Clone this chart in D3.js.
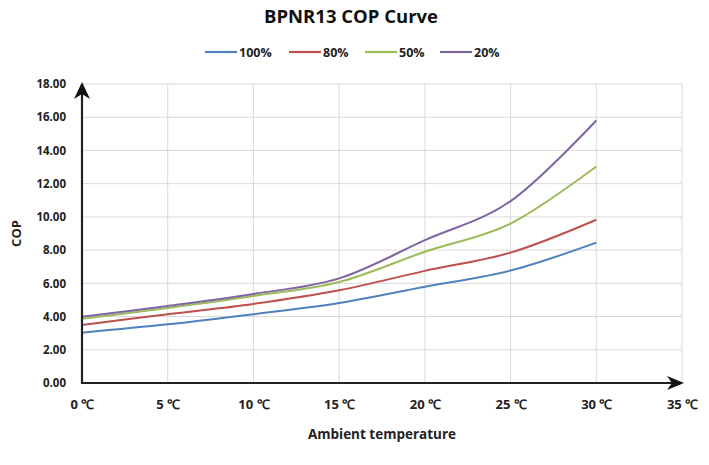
<!DOCTYPE html>
<html><head><meta charset="utf-8">
<script src="https://cdn.jsdelivr.net/npm/d3@7"></script>
<style>
html,body{margin:0;padding:0;background:#fff;}
svg{display:block;font-family:"Open Sans","DejaVu Sans",sans-serif;}
</style></head>
<body><svg id="c" width="709" height="465"></svg>
<script>
const temps = [0, 5, 10, 15, 20, 25, 30];
const xTicks = [0, 5, 10, 15, 20, 25, 30, 35];
const yTicks = [0, 2, 4, 6, 8, 10, 12, 14, 16, 18];
const seriesNames = ["100%", "80%", "50%", "20%"];
const cop100 = [3.03, 3.53, 4.14, 4.82, 5.80, 6.77, 8.45];
const cop80  = [3.49, 4.14, 4.76, 5.58, 6.75, 7.85, 9.83];
const cop50  = [3.86, 4.52, 5.24, 6.08, 7.90, 9.60, 13.03];
const cop20  = [3.99, 4.64, 5.36, 6.30, 8.60, 10.95, 15.80];
const colors = ["#4f81bd", "#c0504d", "#9bbb59", "#8064a2"];
const seriesValues = [cop100, cop80, cop50, cop20];

const svg = d3.select("#c");
const x = d3.scaleLinear().domain([0, 35]).range([82, 682]);
const y = d3.scaleLinear().domain([0, 18]).range([383, 84]);

// title
svg.append("text").attr("x", 351).attr("y", 23).attr("text-anchor", "middle")
  .attr("font-weight", "bold").attr("font-size", 18.5).attr("fill", "#111")
  .text("BPNR13 COP Curve");

// legend
const legX = [205, 289, 365, 440];
seriesNames.forEach((n, i) => {
  const g = svg.append("g");
  g.append("line").attr("x1", legX[i]).attr("x2", legX[i] + 32).attr("y1", 52).attr("y2", 52)
    .attr("stroke", colors[i]).attr("stroke-width", 2.2);
  g.append("text").attr("x", legX[i] + 34).attr("y", 56.5).attr("font-size", 12.5)
    .attr("font-weight", "bold").attr("fill", "#222").text(n);
});

// gridlines
svg.append("g").selectAll("line").data(yTicks.filter(d => d > 0)).join("line")
  .attr("x1", x(0)).attr("x2", x(35)).attr("y1", d => y(d)).attr("y2", d => y(d))
  .attr("stroke", "#d9d9d9").attr("stroke-width", 1);
svg.append("g").selectAll("line").data(xTicks.filter(d => d > 0)).join("line")
  .attr("y1", y(0)).attr("y2", y(18)).attr("x1", d => x(d)).attr("x2", d => x(d))
  .attr("stroke", "#d9d9d9").attr("stroke-width", 1);

// axes labels via d3 axes
const ax = svg.append("g").attr("transform", `translate(0,${y(0)})`)
  .call(d3.axisBottom(x).tickValues(xTicks).tickSize(0).tickPadding(17).tickFormat(d => d + " \u2103"));
ax.select(".domain").remove();
ax.selectAll("text").attr("font-size", 13).attr("font-weight", "bold").attr("fill", "#222")
  .attr("font-family", "'Open Sans', sans-serif");
const ay = svg.append("g").attr("transform", `translate(${x(0)},0)`)
  .call(d3.axisLeft(y).tickValues(yTicks).tickSize(0).tickPadding(16).tickFormat(d3.format(".2f")));
ay.select(".domain").remove();
ay.selectAll("text").attr("font-size", 11.5).attr("font-weight", "bold").attr("fill", "#222")
  .attr("font-family", "'Open Sans', sans-serif");

// axis titles
svg.append("text").attr("x", 382).attr("y", 439).attr("text-anchor", "middle")
  .attr("font-size", 13.5).attr("font-weight", "bold").attr("fill", "#222").text("Ambient temperature");
svg.append("text").attr("transform", `translate(21,${(y(0) + y(18)) / 2}) rotate(-90)`)
  .attr("text-anchor", "middle").attr("font-size", 13).attr("font-weight", "bold").attr("fill", "#222").text("COP");

// lines
const line = d3.line().x((d, i) => x(temps[i])).y(d => y(d)).curve(d3.curveCatmullRom.alpha(0));
seriesValues.forEach((vals, i) => {
  svg.append("path").datum(vals).attr("d", line).attr("fill", "none")
    .attr("stroke", colors[i]).attr("stroke-width", 2);
});

// axis lines with arrows
svg.append("line").attr("x1", x(0)).attr("x2", x(0)).attr("y1", y(0) + 1).attr("y2", 90)
  .attr("stroke", "#222").attr("stroke-width", 2.2);
svg.append("line").attr("x1", x(0) - 1).attr("x2", 676).attr("y1", y(0)).attr("y2", y(0))
  .attr("stroke", "#222").attr("stroke-width", 2.2);
// arrowheads
const ax0 = x(0), ay0 = y(0);
svg.append("path").attr("d", `M${ax0},82 L${ax0 + 8},99 L${ax0},94 L${ax0 - 8},99 Z`).attr("fill", "#111");
svg.append("path").attr("d", `M684,${ay0} L667,${ay0 - 7} L672,${ay0} L667,${ay0 + 7} Z`).attr("fill", "#111");
</script>
</body></html>
